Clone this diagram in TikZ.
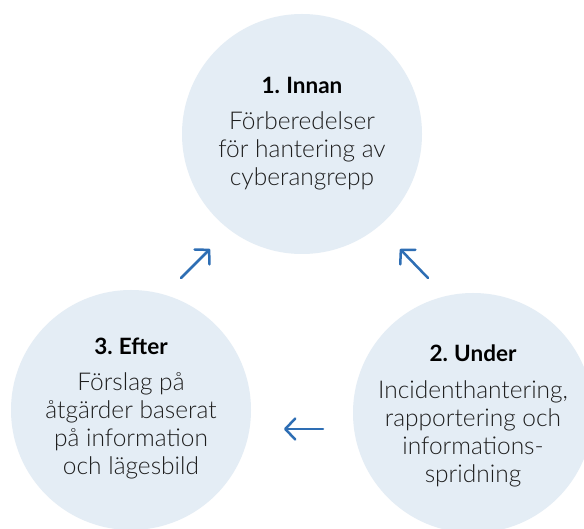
\documentclass[tikz,border=0pt]{standalone}
\usepackage{fontspec}
\setmainfont{Lato}
\newfontfamily\lightfont{Lato Light}
\usetikzlibrary{arrows.meta}
\definecolor{bubblefill}{RGB}{228,237,245}
\definecolor{arrowblue}{RGB}{46,110,180}
\definecolor{textgray}{RGB}{30,30,30}
\tikzset{
  bubble/.style={circle, fill=bubblefill, minimum size=240pt, inner sep=0pt},
  headtext/.style={font=\fontsize{22.5}{26}\selectfont\bfseries, text=black, inner sep=0pt, anchor=base},
  bodytext/.style={font=\lightfont\fontsize{24.5}{28}\selectfont, text=textgray, align=center, inner sep=0pt, anchor=base},
  flow/.style={draw=arrowblue, line width=2.5pt, line cap=round, line join=round,
    -{Straight Barb[length=10pt,width=21pt,line cap=round,line join=round]}}
}
\begin{document}
\begin{tikzpicture}[x=1pt,y=1pt]
\useasboundingbox (0,0) rectangle (584,528);
\clip (0,0) rectangle (584,528);
\fill[white] (0,0) rectangle (584,528);
% circles
\node[bubble] (c1) at (302,394) {};
\node[bubble] (c2) at (473,115) {};
\node[bubble] (c3) at (131,118) {};
% texts (body anchor = baseline of last line)
\node[headtext] (h1) at (302,434) {1.\;Innan};
\node[bodytext] (b1) at (302,342) {Förberedelser\\för hantering av\\cyberangrepp};
\node[headtext] (h2) at (473,166) {2.\;Under};
\node[bodytext] (b2) at (473,46) {Incidenthantering,\\rapportering och\\informations-\\spridning};
\node[headtext] (h3) at (131,173) {3.\;Efter};
\node[bodytext] (b3) at (131,54) {Förslag på\\åtgärder baserat\\på information\\och lägesbild};
% arrows
\coordinate (a1s) at (181,250);
\coordinate (a1e) at (210,279);
\coordinate (a2s) at (428,250);
\coordinate (a2e) at (400,279);
\coordinate (a3s) at (323,99);
\coordinate (a3e) at (284,99);
\draw[flow] (a1s) -- (a1e);
\draw[flow] (a2s) -- (a2e);
\draw[flow] (a3s) -- (a3e);
\end{tikzpicture}
\end{document}
